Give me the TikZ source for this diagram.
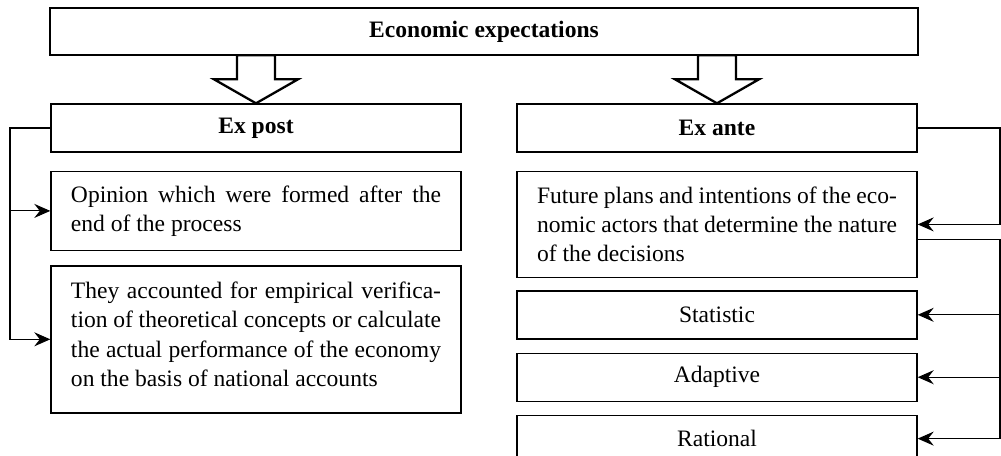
\documentclass[tikz,border=0pt]{standalone}
\usepackage{fontspec}
\setmainfont{Liberation Serif}
\usetikzlibrary{arrows.meta,positioning}

\begin{document}
\begin{tikzpicture}[
                boxes/.style={draw, rectangle,%
                thick, minimum height=0.96cm,
                minimum width=8cm, black, text=black,
                anchor=center, align=center,
                font=\fontsize{13.4}{16.6}\selectfont},
                head boxes/.style={boxes, font=\fontsize{13.4}{16.6}\selectfont\bfseries},
                txt boxes/.style={boxes, align=justify, inner xsep=0.4cm, text width=7.4cm},
                % Define styles for the arrows
                fat arrow/.style={draw, line width=1.3pt, fill=white},
                conn/.style={draw, semithick, black, ->},
                >={Stealth[length=3.2mm,width=2.8mm,inset=1.1mm]}
                ]
\useasboundingbox (0,0) rectangle (20.02,-9.12);

%% Head boxes
\node[head boxes, minimum width=17.36cm, minimum height=0.94cm] (econ) at (9.68,-0.63) {Economic expectations};
\node[head boxes, minimum width=8.2cm] (expost) at (5.12,-2.56) {Ex post};
\node[head boxes, minimum width=8.0cm] (exante) at (14.34,-2.56) {Ex ante};

%% Ex post column
\node[txt boxes, minimum height=1.58cm, below=0.36cm of expost] (opinion)
  {Opinion which were formed after the\linebreak end of the process};
\node[txt boxes, minimum height=2.94cm, below=0.28cm of opinion] (verif)
  {They accounted for empirical verifica-\linebreak tion of theoretical concepts or calculate\linebreak the actual performance of the economy\linebreak on the basis of national accounts\vspace{0.2cm}};

%% Ex ante column
\node[txt boxes, text width=7.2cm, minimum height=2.12cm, below=0.36cm of exante] (plans)
  {Future plans and intentions of the eco-\linebreak nomic actors that determine the nature\linebreak of the decisions};
\node[boxes, below=0.24cm of plans] (statistic) {Statistic};
\node[boxes, below=0.26cm of statistic] (adaptive) {Adaptive};
\node[boxes, minimum height=0.92cm, below=0.26cm of adaptive] (rational) {Rational};

%% Hollow arrows
\draw[fat arrow] (expost.north) -- ++(-0.84,0.48) -- ++(0.46,0) -- ++(0,0.48) -- ++(0.76,0) -- ++(0,-0.48) -- ++(0.46,0) -- cycle;
\draw[fat arrow] (exante.north) -- ++(-0.84,0.48) -- ++(0.46,0) -- ++(0,0.48) -- ++(0.76,0) -- ++(0,-0.48) -- ++(0.46,0) -- cycle;

%%
%%%% Connectors
\coordinate (lbus) at (0.2,0);
\coordinate (rbus) at (20.0,0);
\draw[conn] (expost.west) -- (lbus |- expost.west) |- (verif.west);
\draw[conn] (lbus |- opinion.west) -- (opinion.west);

\draw[conn] (exante.east) -- (rbus |- exante.east) |- (plans.east);
\coordinate (plansout) at ([yshift=-0.3cm]plans.east);
\draw[conn] (plansout) -- (rbus |- plansout) |- (rational.east);
\draw[conn] (rbus |- statistic.east) -- (statistic.east);
\draw[conn] (rbus |- adaptive.east) -- (adaptive.east);

\end{tikzpicture}
\end{document}
